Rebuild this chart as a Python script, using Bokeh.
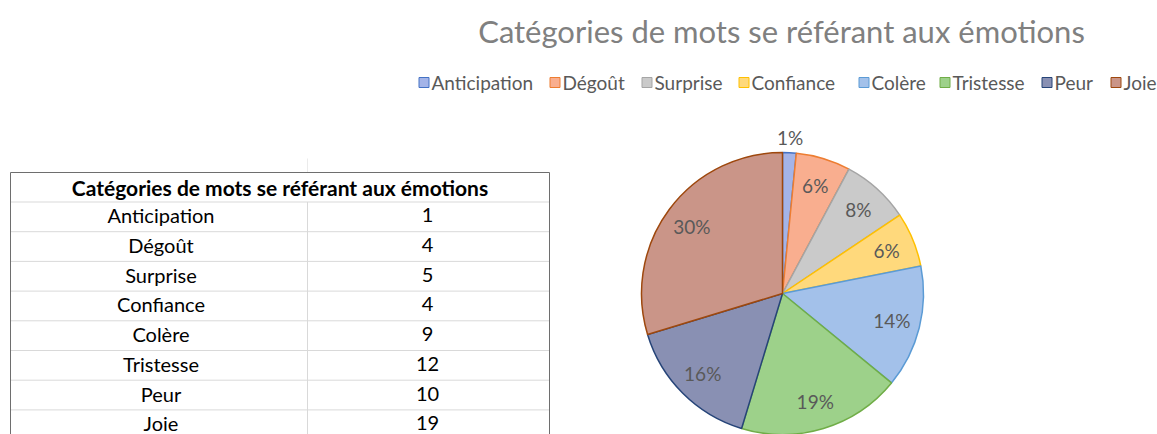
import math
from bokeh.plotting import figure
from bokeh.models import Range1d, ColumnDataSource
from bokeh.embed import file_html
from bokeh.resources import INLINE
from bokeh.core.properties import value

# ---------------- data ----------------
chart_title = "Catégories de mots se référant aux émotions"
categories = ["Anticipation", "Dégoût", "Surprise", "Confiance", "Colère", "Tristesse", "Peur", "Joie"]
counts = [1, 4, 5, 4, 9, 12, 10, 19]
pct_labels = ["1%", "6%", "8%", "6%", "14%", "19%", "16%", "30%"]

fill_colors = ["#A4B4E8", "#F9AE8F", "#CACACA", "#FFD97C", "#A3C1EA", "#9DD18A", "#8990B3", "#CA9588"]
line_colors = ["#4472C4", "#ED7D31", "#A5A5A5", "#FFC000", "#5B9BD5", "#70AD47", "#264478", "#9E480E"]

# legend square x positions (layout)
legend_x = [418, 549, 641, 738, 858, 939, 1041, 1110]

FONT = "Lato"
W, H = 1157, 434
p = figure(width=W, height=H, x_range=Range1d(0, W), y_range=Range1d(-H, 0),
           output_backend="svg", toolbar_location=None, min_border=0)
p.axis.visible = False
p.grid.visible = False
p.outline_line_color = None
p.background_fill_color = "white"
p.border_fill_color = "white"

def Y(sy):
    return -sy

# ---------------- title ----------------
p.text(x=[781], y=[Y(30)], text=[chart_title], text_font=value(FONT), text_font_size="31px",
       text_color="#808080", text_align="center", text_baseline="middle")

# ---------------- legend ----------------
p.rect(x=[lx + 5.5 for lx in legend_x], y=[Y(82)] * len(legend_x), width=10, height=10,
       fill_color=fill_colors, line_color=line_colors, line_width=1)
p.text(x=[lx + 13 for lx in legend_x], y=[Y(82)] * len(legend_x), text=categories,
       text_font=value(FONT), text_font_size="19px", text_color="#595959",
       text_align="left", text_baseline="middle")

# ---------------- pie ----------------
cx, cy, r = 782, Y(293), 141
total = float(sum(counts))
starts, ends, lx_, ly_ = [], [], [], []
c0 = 0.0
for v in counts:
    frac = v / total
    c1 = c0 + frac
    starts.append(math.pi / 2 - 2 * math.pi * c1)
    ends.append(math.pi / 2 - 2 * math.pi * c0)
    mid = (c0 + c1) / 2
    th = math.pi / 2 - 2 * math.pi * mid
    lr = 0.8 * r if frac >= 0.03 else 1.11 * r
    lx_.append(cx + lr * math.cos(th))
    ly_.append(cy + lr * math.sin(th))
    c0 = c1

pie_src = ColumnDataSource(dict(start=starts, end=ends, fill=fill_colors, line=line_colors))
p.wedge(x=cx, y=cy, radius=r, radius_units="data", start_angle="start", end_angle="end",
        fill_color="fill", line_color="line", line_width=1.5, source=pie_src)
p.text(x=lx_, y=ly_, text=pct_labels, text_font=value(FONT), text_font_size="19px",
       text_color="#595959", text_align="center", text_baseline="middle")

# ---------------- table ----------------
tx0, tx1, txm = 10, 549, 307
ttop, thead = 172, 201.5
row_h = 29.7
n = len(categories)
tbottom = thead + n * row_h

# faint spreadsheet gridline above the table
p.segment(x0=[txm], y0=[Y(158)], x1=[txm], y1=[Y(ttop)], line_color="#EBEBEB", line_width=1)
# row lines
p.segment(x0=[tx0] * n, y0=[Y(thead + k * row_h) for k in range(n)],
          x1=[tx1] * n, y1=[Y(thead + k * row_h) for k in range(n)],
          line_color="#D9D9D9", line_width=1)
# column divider
p.segment(x0=[txm], y0=[Y(thead)], x1=[txm], y1=[Y(tbottom)], line_color="#D9D9D9", line_width=1)
# outer border
p.segment(x0=[tx0, tx0, tx1], y0=[Y(ttop), Y(ttop), Y(ttop)],
          x1=[tx1, tx0, tx1], y1=[Y(ttop), Y(tbottom), Y(tbottom)],
          line_color="#6E6E6E", line_width=1)

p.text(x=[(tx0 + tx1) / 2], y=[Y((ttop + thead) / 2)], text=[chart_title],
       text_font=value(FONT), text_font_size="21px", text_font_style="bold",
       text_color="#000000", text_align="center", text_baseline="middle")
p.text(x=[(tx0 + txm) / 2 + 2] * n, y=[Y(thead + row_h * (i + 0.5) - 1.5) for i in range(n)],
       text=categories, text_font=value(FONT), text_font_size="20px",
       text_color="#000000", text_align="center", text_baseline="middle")
p.text(x=[(txm + tx1) / 2 - 1] * n, y=[Y(thead + row_h * (i + 0.5) - 1.5) for i in range(n)],
       text=[str(v) for v in counts], text_font=value(FONT), text_font_size="20px",
       text_color="#000000", text_align="center", text_baseline="middle")

open("out.html", "w").write(file_html(p, INLINE))
